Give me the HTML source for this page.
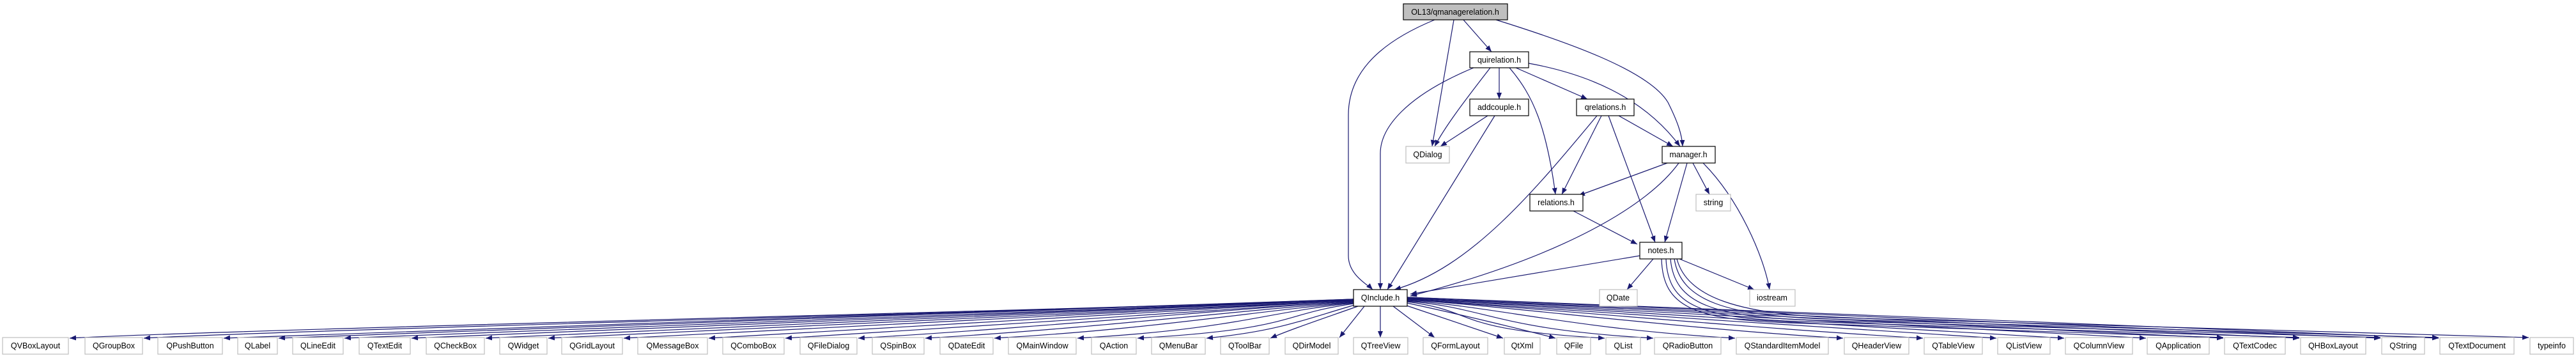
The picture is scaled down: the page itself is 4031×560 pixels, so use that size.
<!DOCTYPE html>
<html><head><meta charset="utf-8"><style>
html,body{margin:0;padding:0;background:#fff;width:4031px;height:560px;overflow:hidden}
svg{display:block}
text{font-family:"Liberation Sans",Arial,sans-serif;font-size:12.5px;fill:#000;text-anchor:middle}
.e{fill:none;stroke:#191970;stroke-width:1.2;marker-end:url(#a)}
.g{fill:#fff;stroke:#bfbfbf;stroke-width:1.2}
.b{fill:#fff;stroke:#000;stroke-width:1.2}
</style></head><body>
<svg width="4031" height="560" viewBox="0 0 4031 560" xmlns="http://www.w3.org/2000/svg">
<defs><marker id="a" markerUnits="userSpaceOnUse" markerWidth="11" markerHeight="8" refX="10" refY="4" orient="auto"><path d="M0,0 L10,4 L0,8 z" fill="#191970"/></marker></defs>
<g>
<path class="e" d="M2245,31 C2150,70 2110,120 2110,180 L2110,400 C2110,430 2140,445 2148,453"/>
<path class="e" d="M2275,31 L2241,229"/>
<path class="e" d="M2290,31 L2334,81"/>
<path class="e" d="M2341,31 C2450,65 2580,110 2610,160 C2625,190 2632,210 2633,229"/>
<path class="e" d="M2306,106 C2200,150 2160,200 2160,240 L2160,453"/>
<path class="e" d="M2332,106 C2290,160 2260,200 2245,229"/>
<path class="e" d="M2346,106 L2346,155"/>
<path class="e" d="M2362,106 C2400,150 2420,200 2434,304"/>
<path class="e" d="M2372,106 L2484,155"/>
<path class="e" d="M2392,99 C2480,115 2570,150 2629,229"/>
<path class="e" d="M2328,181 L2254,229"/>
<path class="e" d="M2339,181 L2171,453"/>
<path class="e" d="M2499,181 C2400,300 2300,420 2182,453"/>
<path class="e" d="M2506,181 L2444,304"/>
<path class="e" d="M2517,181 L2590,379"/>
<path class="e" d="M2533,181 L2618,229"/>
<path class="e" d="M2609,255 L2470,306"/>
<path class="e" d="M2627,255 C2580,320 2450,400 2207,463"/>
<path class="e" d="M2640,255 L2605,379"/>
<path class="e" d="M2649,255 L2675,304"/>
<path class="e" d="M2665,255 C2720,310 2760,400 2769,453"/>
<path class="e" d="M2462,330 L2562,382"/>
<path class="e" d="M2566,400 L2207,460"/>
<path class="e" d="M2587,405 L2546,453"/>
<path class="e" d="M2628,405 L2745,453"/>
<path class="e" d="M2600,405 C2602,480 2650,500 2800,505 L3479,528"/>
<path class="e" d="M2607,405 C2610,478 2660,498 2820,503 L3598,528"/>
<path class="e" d="M2614,405 C2620,475 2680,496 2840,501 L3725,528"/>
<path class="e" d="M2620,405 C2630,470 2700,494 2860,499 L3816,528"/>
<path class="e" d="M2624,405 C2640,465 2720,492 2880,497 L3957,528"/>
<path class="e" d="M2118,468 C1950,478 357,515 109,529"/>
<path class="e" d="M2118,468 C1950,478 473,515 225,529"/>
<path class="e" d="M2118,468 C1950,478 598,515 350,529"/>
<path class="e" d="M2118,468 C1950,478 684,515 436,529"/>
<path class="e" d="M2118,469 C1950,479 787,515 539,529"/>
<path class="e" d="M2118,469 C1950,479 892,515 644,529"/>
<path class="e" d="M2118,469 C1950,479 1008,515 760,529"/>
<path class="e" d="M2118,470 C1950,480 1106,515 858,529"/>
<path class="e" d="M2118,470 C1950,480 1224,515 976,529"/>
<path class="e" d="M2118,470 C1950,480 1357,515 1109,529"/>
<path class="e" d="M2118,471 C1950,481 1477,515 1229,529"/>
<path class="e" d="M2118,471 C1950,482 1591,515 1343,529"/>
<path class="e" d="M2118,472 C1960,484 1696,515 1448,529"/>
<path class="e" d="M2118,473 C1970,486 1804,515 1556,529"/>
<path class="e" d="M2118,474 C1980,488 1934,515 1686,529"/>
<path class="e" d="M2118,475 C2000,492 2028,515 1780,529"/>
<path class="e" d="M2120,477 C2040,500 2000,518 1888,529"/>
<path class="e" d="M2125,479 C2080,495 2020,515 1988,529"/>
<path class="e" d="M2135,479 L2096,528"/>
<path class="e" d="M2160,479 L2160,528"/>
<path class="e" d="M2180,479 L2245,528"/>
<path class="e" d="M2198,477 L2352,529"/>
<path class="e" d="M2202,474 C2300,495 2400,520 2434,529"/>
<path class="e" d="M2202,472 C2320,488 2263,515 2511,529"/>
<path class="e" d="M2202,471 C2330,482 2339,515 2587,529"/>
<path class="e" d="M2202,470 C2340,480 2467,515 2715,529"/>
<path class="e" d="M2202,469 C2350,478 2636,515 2884,529"/>
<path class="e" d="M2202,468 C2350,478 2761,515 3009,529"/>
<path class="e" d="M2202,468 C2350,477 2876,515 3124,529"/>
<path class="e" d="M2202,467 C2350,477 2982,515 3230,529"/>
<path class="e" d="M2202,467 C2350,476 3110,515 3358,529"/>
<path class="e" d="M2202,466 C2350,476 3231,515 3479,529"/>
<path class="e" d="M2202,466 C2350,475 3350,515 3598,529"/>
<path class="e" d="M2202,465 C2350,475 3477,515 3725,529"/>
<path class="e" d="M2202,465 C2350,474 3568,515 3816,529"/>
</g>
<g>
<rect x="2196" y="6" width="163" height="25" fill="#bfbfbf" stroke="#000" stroke-width="1.2"/><text x="2277" y="23">OL13/qmanagerelation.h</text>
<rect class="b" x="2300" y="81" width="92" height="25"/><text x="2346" y="98">quirelation.h</text>
<rect class="b" x="2300" y="155" width="92" height="26"/><text x="2346" y="172">addcouple.h</text>
<rect class="b" x="2467" y="155" width="90" height="26"/><text x="2512" y="172">qrelations.h</text>
<rect class="g" x="2200" y="229" width="68" height="26"/><text x="2234" y="246">QDialog</text>
<rect class="b" x="2601" y="229" width="83" height="26"/><text x="2642" y="246">manager.h</text>
<rect class="b" x="2394" y="304" width="83" height="26"/><text x="2435" y="321">relations.h</text>
<rect class="g" x="2654" y="304" width="54" height="26"/><text x="2681" y="321">string</text>
<rect class="b" x="2566" y="379" width="66" height="26"/><text x="2599" y="396">notes.h</text>
<rect class="b" x="2118" y="453" width="84" height="26"/><text x="2160" y="470">QInclude.h</text>
<rect class="g" x="2503" y="453" width="59" height="26"/><text x="2532" y="470">QDate</text>
<rect class="g" x="2738" y="453" width="71" height="26"/><text x="2773" y="470">iostream</text>
</g>
<g>
<rect class="g" x="4" y="528" width="103" height="26"/><text x="55.5" y="545">QVBoxLayout</text>
<rect class="g" x="133" y="528" width="90" height="26"/><text x="178" y="545">QGroupBox</text>
<rect class="g" x="247" y="528" width="101" height="26"/><text x="297.5" y="545">QPushButton</text>
<rect class="g" x="372" y="528" width="62" height="26"/><text x="403" y="545">QLabel</text>
<rect class="g" x="458" y="528" width="79" height="26"/><text x="497.5" y="545">QLineEdit</text>
<rect class="g" x="562" y="528" width="80" height="26"/><text x="602" y="545">QTextEdit</text>
<rect class="g" x="667" y="528" width="91" height="26"/><text x="712.5" y="545">QCheckBox</text>
<rect class="g" x="782" y="528" width="74" height="26"/><text x="819" y="545">QWidget</text>
<rect class="g" x="879" y="528" width="95" height="26"/><text x="926.5" y="545">QGridLayout</text>
<rect class="g" x="998" y="528" width="109" height="26"/><text x="1052.5" y="545">QMessageBox</text>
<rect class="g" x="1131" y="528" width="96" height="26"/><text x="1179" y="545">QComboBox</text>
<rect class="g" x="1252" y="528" width="89" height="26"/><text x="1296.5" y="545">QFileDialog</text>
<rect class="g" x="1365" y="528" width="81" height="26"/><text x="1405.5" y="545">QSpinBox</text>
<rect class="g" x="1471" y="528" width="83" height="26"/><text x="1512.5" y="545">QDateEdit</text>
<rect class="g" x="1578" y="528" width="106" height="26"/><text x="1631" y="545">QMainWindow</text>
<rect class="g" x="1708" y="528" width="70" height="26"/><text x="1743" y="545">QAction</text>
<rect class="g" x="1802" y="528" width="84" height="26"/><text x="1844" y="545">QMenuBar</text>
<rect class="g" x="1910" y="528" width="76" height="26"/><text x="1948" y="545">QToolBar</text>
<rect class="g" x="2011" y="528" width="83" height="26"/><text x="2052.5" y="545">QDirModel</text>
<rect class="g" x="2118" y="528" width="85" height="26"/><text x="2160.5" y="545">QTreeView</text>
<rect class="g" x="2227" y="528" width="101" height="26"/><text x="2277.5" y="545">QFormLayout</text>
<rect class="g" x="2354" y="528" width="56" height="26"/><text x="2382" y="545">QtXml</text>
<rect class="g" x="2436" y="528" width="53" height="26"/><text x="2462.5" y="545">QFile</text>
<rect class="g" x="2513" y="528" width="54" height="26"/><text x="2540" y="545">QList</text>
<rect class="g" x="2589" y="528" width="104" height="26"/><text x="2641" y="545">QRadioButton</text>
<rect class="g" x="2717" y="528" width="144" height="26"/><text x="2789" y="545">QStandardItemModel</text>
<rect class="g" x="2886" y="528" width="101" height="26"/><text x="2936.5" y="545">QHeaderView</text>
<rect class="g" x="3011" y="528" width="91" height="26"/><text x="3056.5" y="545">QTableView</text>
<rect class="g" x="3126" y="528" width="82" height="26"/><text x="3167" y="545">QListView</text>
<rect class="g" x="3232" y="528" width="105" height="26"/><text x="3284.5" y="545">QColumnView</text>
<rect class="g" x="3360" y="528" width="97" height="26"/><text x="3408.5" y="545">QApplication</text>
<rect class="g" x="3481" y="528" width="95" height="26"/><text x="3528.5" y="545">QTextCodec</text>
<rect class="g" x="3600" y="528" width="102" height="26"/><text x="3651" y="545">QHBoxLayout</text>
<rect class="g" x="3727" y="528" width="67" height="26"/><text x="3760.5" y="545">QString</text>
<rect class="g" x="3818" y="528" width="116" height="26"/><text x="3876" y="545">QTextDocument</text>
<rect class="g" x="3959" y="528" width="68" height="26"/><text x="3993" y="545">typeinfo</text>
</g>
</svg>
</body></html>
